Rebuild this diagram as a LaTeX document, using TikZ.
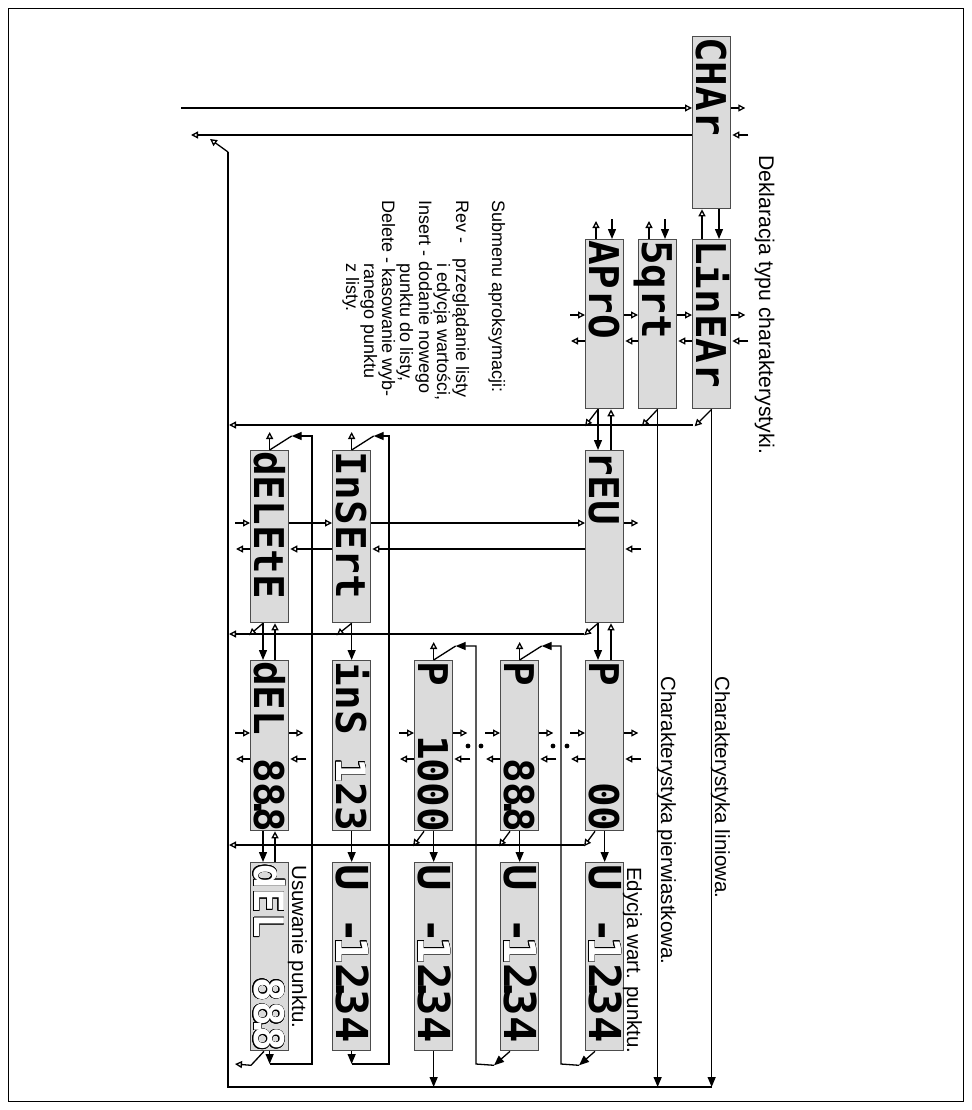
\documentclass[tikz,border=0pt]{standalone}
\usepackage{fontspec}
\setmainfont{Liberation Sans}
\newfontfamily\segfont{DejaVu Sans Mono}
\usepackage[copies]{contour}
\contourlength{0.6pt}
\usetikzlibrary{arrows.meta,calc}
\tikzset{
  disp/.style={draw=black!70,fill=black!14,line width=1.3pt,inner sep=0pt,anchor=north west,minimum width=38pt},
  ln/.style={line width=1.3pt,black},
  oa/.style={-{Triangle[open,length=7pt,width=7pt]}},
  fa/.style={-{Triangle[length=10pt,width=8pt]}},
  seg/.style={font=\segfont\bfseries\fontsize{41}{41}\selectfont,rotate=-90,anchor=base west,inner sep=0pt},
  segL/.style={font=\segfont\bfseries\fontsize{44}{44}\selectfont,rotate=-90,anchor=base west,inner sep=0pt},
  lbl/.style={font=\fontsize{20.5}{20.5}\selectfont,rotate=-90,anchor=base west,inner sep=0pt},
  sublbl/.style={font=\fontsize{18}{18}\selectfont,rotate=-90,anchor=base west,inner sep=0pt},
}
\newcommand\StubRO[2]{\draw[ln,oa] (#1.east|-0,#2) -- ++(14,0);}
\newcommand\StubRI[2]{\draw[ln,oa] ($(#1.east|-0,#2)+(17,0)$) -- ($(#1.east|-0,#2)+(1,0)$);}
\newcommand\StubLI[2]{\draw[ln,oa] ($(#1.west|-0,#2)+(-15,0)$) -- (#1.west|-0,#2);}
\newcommand\StubLO[2]{\draw[ln,oa] (#1.west|-0,#2) -- ++(-14,0);}
\newcommand\dispbox[4]{\node[disp,minimum height=#4pt] (#1) at (#2,#3) {};}
\newcommand\ghost[1]{\textcolor{white}{\contour{black}{#1}}}
\begin{document}
\begin{tikzpicture}[x=1pt,y=-1pt]
\useasboundingbox (0,0) rectangle (971,1110);
\draw[line width=0.8pt] (8,8) rectangle (963,1101);

% boxes
\dispbox{char}{692}{36}{172}
\dispbox{lin}{692}{239}{169}
\dispbox{sqr}{638}{239}{169}
\dispbox{apr}{585}{239}{169}
\dispbox{rev}{585}{450}{172}
\dispbox{ins}{332}{450}{172}
\dispbox{del}{250}{450}{172}
\dispbox{pa}{585}{660}{170}
\dispbox{pb}{500}{660}{170}
\dispbox{pc}{414}{660}{170}
\dispbox{insv}{332}{660}{170}
\dispbox{delv}{250}{660}{170}
\dispbox{ua}{585}{862}{188}
\dispbox{ub}{500}{862}{188}
\dispbox{uc}{414}{862}{188}
\dispbox{ud}{332}{862}{188}
\dispbox{ue}{250}{862}{188}

% display texts
\node[seg] (tchar) at (696,37) {CHAr};
\node[seg] (tlin) at (696,240) {LinEAr};
\node[seg] (tsqr) at (642,240) {5qrt};
\node[seg] (tapr) at (589,240) {APrO};
\node[seg] (trev) at (589,451) {rEU};
\node[seg] (tins) at (336,451) {InSErt};
\node[seg] (tdel) at (254,451) {dELEtE};
\node[seg] (tpa1) at (589,661) {P};
\node[seg] (tpa2) at (589,782) {00};
\node[seg] (tpb1) at (504,661) {P};
\node[seg] (tpb2) at (504,758) {88\kern-.3em.\kern-.3em8};
\node[seg] (tpc1) at (418,661) {P};
\node[seg] (tpc2) at (418,735) {1};
\node[seg] (tpc3) at (418,758) {000};
\node[seg] (tiv1) at (336,661) {inS};
\node[seg] (tiv2) at (336,758) {\ghost{1}};
\node[seg] (tiv3) at (336,782) {23};
\node[seg] (tdv1) at (254,661) {dEL};
\node[seg] (tdv2) at (254,758) {88\kern-.3em.\kern-.3em8};
\foreach \n/\l in {ua/589,ub/504,uc/418,ud/336}{
  \node[segL] (\n t1) at (\l,864) {U};
  \node[segL] (\n t2) at (\l,917) {-};
  \node[segL] (\n t3) at (\l,937) {\ghost{1}};
  \node[segL] (\n t4) at (\l,963) {2\kern-.3em.\kern-.3em34};
}
\node[seg] (tue1) at (254,864) {\ghost{dEL}};
\node[seg] (tue2) at (254,977) {\ghost{88\kern-.3em.\kern-.3em8}};

% labels
\node[lbl,font=\fontsize{21.2}{21.2}\selectfont] (dek) at (759,155) {Deklaracja typu charakterystyki.};
\node[lbl] (clin) at (715,676) {Charakterystyka liniowa.};
\node[lbl] (cpier) at (661,676) {Charakterystyka pierwiastkowa.};
\node[lbl] (edy) at (627,867) {Edycja wart. punktu.};
\node[lbl] (usu) at (292,865) {Usuwanie punktu.};
\node[sublbl] (s1) at (492,200) {Submenu aproksymacji:};
\node[sublbl] (s2) at (456,200) {Rev -};
\node[sublbl] (s2b) at (456,258) {przeglądanie listy};
\node[sublbl] (s3) at (437,263) {i edycja wartości,};
\node[sublbl] (s4) at (419,200) {Insert - dodanie nowego};
\node[sublbl] (s5) at (400,263) {punktu do listy,};
\node[sublbl] (s6) at (382,200) {Delete - kasowanie wyb-};
\node[sublbl] (s7) at (364,263) {ranego punktu};
\node[sublbl] (s8) at (346,263) {z listy.};

% top lines
\coordinate (inL) at (181,108);
\coordinate (outL) at (191,135);
\coordinate (corner) at (228,152);
\coordinate (diagTip) at (210,139);
\coordinate (bl) at (228,1087);
\draw[ln,oa] (inL) -- (char.west|-inL);
\draw[ln,oa] (char.west|-outL) -- (outL);
\draw[ln,oa] (corner) -- (diagTip);
\draw[ln] (corner) -- (bl) -- (lin.south|-bl);
\StubRO{char}{108}
\StubRI{char}{135}
\draw[ln,oa] ([xshift=10pt]lin.north west) -- ([xshift=10pt]char.south west);
\draw[ln,fa] ([xshift=27pt]char.south west) -- ([xshift=27pt]lin.north west);

% row 1
\StubRO{lin}{315}
\StubRI{lin}{341}
\draw[ln,oa] (sqr.east|-0,315) -- (lin.west|-0,315);
\draw[ln,oa] (lin.west|-0,341) -- ($(sqr.east|-0,341)+(1,0)$);
\draw[ln,oa] (apr.east|-0,315) -- (sqr.west|-0,315);
\draw[ln,oa] (sqr.west|-0,341) -- ($(apr.east|-0,341)+(1,0)$);
\StubLI{apr}{315}
\StubLO{apr}{341}
\foreach \b in {sqr,apr}{
  \draw[ln,oa] ([xshift=11pt]\b.north west) -- ++(0,-18);
  \draw[ln,fa] ($(\b.north west)+(27,-20)$) -- ([xshift=27pt]\b.north west);
}
\draw[ln,fa] (lin.south) -- (lin.south|-bl);
\draw[ln,fa] (sqr.south) -- (sqr.south|-bl);
\draw[ln,oa] (lin.south) -- ++(-17,17);
\draw[ln,oa] (sqr.south) -- ++(-16,17);
\draw[ln,oa] ([xshift=13pt]apr.south west) -- ++(-13,17);
\coordinate (h1R) at (693,425);
\coordinate (h1L) at (229,425);
\draw[ln,oa] (h1R) -- (h1L);
\draw[ln,fa] ([xshift=13pt]apr.south west) -- ([xshift=13pt]rev.north west);
\draw[ln,oa] ([xshift=26pt]rev.north west) -- ([xshift=26pt]apr.south west);

% row 2
\StubRO{rev}{523}
\StubRI{rev}{549}
\draw[ln,oa] (ins.east|-0,523) -- (rev.west|-0,523);
\draw[ln,oa] (rev.west|-0,549) -- ($(ins.east|-0,549)+(1,0)$);
\draw[ln,oa] (del.east|-0,523) -- (ins.west|-0,523);
\draw[ln,oa] (ins.west|-0,549) -- ($(del.east|-0,549)+(1,0)$);
\StubLI{del}{523}
\StubLO{del}{549}
\foreach \b in {ins,del,pb,pc}{
  \draw[ln,oa] (\b.north) -- ++(0,-18);
  \draw[ln] (\b.north) -- ++(22,-14);
}
\draw[ln,oa] ([xshift=13pt]rev.south west) -- ++(-14,12);
\draw[ln,oa] (ins.south) -- ++(-15,12);
\draw[ln,oa] ([xshift=13pt]del.south west) -- ++(-14,12);
\coordinate (h2R) at (584,634);
\coordinate (h2L) at (229,634);
\draw[ln,oa] (h2R) -- (h2L);
\draw[ln,fa] ([xshift=13pt]rev.south west) -- ([xshift=13pt]pa.north west);
\draw[ln,oa] ([xshift=26pt]pa.north west) -- ([xshift=26pt]rev.south west);
\draw[ln,fa] (ins.south) -- (insv.north);
\draw[ln,fa] ([xshift=13pt]del.south west) -- ([xshift=13pt]delv.north west);
\draw[ln,oa] ([xshift=25pt]delv.north west) -- ([xshift=25pt]del.south west);

% row 3
\foreach \b in {pa,pb,pc,delv}{
  \StubRO{\b}{733}
  \StubRI{\b}{759}
  \StubLI{\b}{733}
  \StubLO{\b}{759}
}
\foreach \p in {(553,746),(567,746),(468,746),(481,746)}{\fill \p circle (2.4);}
\foreach \a/\b in {pa/ua,pb/ub,pc/uc,insv/ud}{
  \draw[ln,fa] (\a.south) -- (\b.north);
}
\foreach \b in {pa,pb,pc}{
  \draw[ln,oa] ([xshift=10pt]\b.south west) -- ++(-11,15);
}
\coordinate (h3R) at (584,845);
\coordinate (h3L) at (229,845);
\draw[ln,oa] (h3R) -- (h3L);
\draw[ln,fa] ([xshift=13pt]delv.south west) -- ([xshift=13pt]ue.north west);
\draw[ln,oa] ([xshift=25pt]ue.north west) -- ([xshift=25pt]delv.south west);

% row 4 returns
\draw[ln,fa] ([xshift=10pt]ua.south west) -- ++(-16,14);
\draw[ln,fa] ($(ua.south west)+(-6,14)$) -- (561,1064) -- (561,646) -- ($(pb.north)+(22,-14)$);
\draw[ln,fa] ([xshift=10pt]ub.south west) -- ++(-16,14);
\draw[ln,fa] ($(ub.south west)+(-6,14)$) -- (476,1064) -- (476,646) -- ($(pc.north)+(22,-14)$);
\draw[ln,fa] (uc.south) -- (uc.south|-bl);
\draw[ln,fa] (ud.south) -- (ud.south|-0,1064);
\draw[ln,fa] (ud.south|-0,1064) -- (389,1064) -- (389,436) -- ($(ins.north)+(22,-14)$);
\draw[ln,fa] (ue.south) -- (ue.south|-0,1064);
\draw[ln,fa] (ue.south|-0,1064) -- (312,1064) -- (312,436) -- ($(del.north)+(22,-14)$);
\draw[ln,oa] ([xshift=14pt]ue.south west) -- ++(-13,14) -- (235,1064);
\end{tikzpicture}
\end{document}
